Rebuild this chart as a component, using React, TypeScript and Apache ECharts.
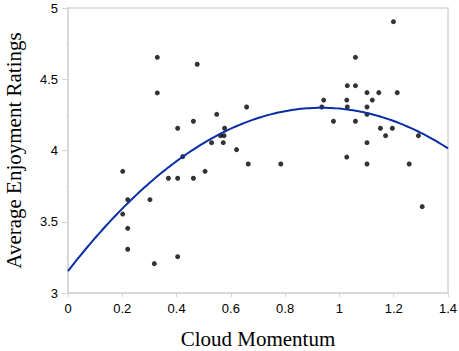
import React, { useEffect, useRef } from "react";
import * as echarts from "echarts";

const xTickLabels = ["0", "0.2", "0.4", "0.6", "0.8", "1", "1.2", "1.4"];
const yTickLabels = ["3", "3.5", "4", "4.5", "5"];

const momentum = [
  0.329, 0.476, 0.329, 0.658, 0.548, 0.462, 0.404, 0.577, 0.562, 0.575,
  0.529, 0.572, 0.621, 0.664, 0.2015, 0.4225, 0.370, 0.404, 0.462, 0.505,
  0.220, 0.302, 0.2015, 0.220, 0.220, 0.318, 0.404,
  1.199, 1.059, 1.029, 1.059, 1.1016, 1.145, 1.213, 0.942, 1.027, 1.121,
  0.935, 1.029, 1.1016, 1.1016, 0.978, 1.059, 1.151, 1.195, 1.170, 1.291,
  1.1016, 0.784, 1.027, 1.1016, 1.257, 1.305,
];
const enjoyment = [
  4.654, 4.605, 4.404, 4.305, 4.254, 4.205, 4.156, 4.156, 4.104, 4.104,
  4.055, 4.055, 4.006, 3.905, 3.854, 3.957, 3.805, 3.805, 3.805, 3.854,
  3.655, 3.655, 3.554, 3.454, 3.307, 3.206, 3.255,
  4.904, 4.654, 4.455, 4.455, 4.406, 4.406, 4.406, 4.354, 4.354, 4.354,
  4.305, 4.305, 4.305, 4.254, 4.205, 4.205, 4.156, 4.156, 4.104, 4.104,
  4.055, 3.905, 3.954, 3.905, 3.905, 3.606,
];
// quadratic fit y = a + b x + c x^2
const fitCoefficients = [3.154, 2.453, -1.313];
const fitRange = [0, 1.4];

export default function App() {
  const ref = useRef<HTMLDivElement>(null);
  useEffect(() => {
    if (!ref.current) return;
    const chart = echarts.init(ref.current, undefined, { renderer: "svg" });
    const points = momentum.map((x, i) => [x, enjoyment[i]]);
    const curve: number[][] = [];
    const steps = 140;
    for (let i = 0; i <= steps; i++) {
      const x = fitRange[0] + ((fitRange[1] - fitRange[0]) * i) / steps;
      const [a, b, c] = fitCoefficients;
      curve.push([x, a + b * x + c * x * x]);
    }
    const axisColor = "#d6d6d6";
    chart.setOption({
      animation: false,
      grid: {
        left: 68,
        right: 11,
        top: 8,
        bottom: 58,
        show: true,
        borderColor: axisColor,
        borderWidth: 1.5,
        containLabel: false,
        outerBoundsMode: "none",
      },
      xAxis: {
        type: "value",
        min: 0,
        max: 1.4,
        interval: 0.2,
        name: "Cloud Momentum",
        nameLocation: "middle",
        nameGap: 35,
        nameTextStyle: { fontFamily: "Liberation Serif", fontSize: 21, color: "#000" },
        axisLine: { show: true, lineStyle: { color: axisColor, width: 1.5 } },
        axisTick: { show: true, length: 4, lineStyle: { color: axisColor } },
        splitLine: { show: false },
        axisLabel: {
          fontFamily: "Liberation Sans",
          fontSize: 13,
          color: "#000",
          margin: 9,
          formatter: (v: number) => xTickLabels[Math.round(v / 0.2)] ?? "",
        },
      },
      yAxis: {
        type: "value",
        min: 3,
        max: 5,
        interval: 0.5,
        name: "Average Enjoyment Ratings",
        nameLocation: "middle",
        nameGap: 44,
        nameTextStyle: { fontFamily: "Liberation Serif", fontSize: 21, color: "#000" },
        axisLine: { show: true, lineStyle: { color: axisColor, width: 1.5 } },
        axisTick: { show: true, length: 6, lineStyle: { color: axisColor } },
        minorTick: { show: true, splitNumber: 2, length: 2, lineStyle: { color: axisColor } },
        splitLine: { show: false },
        axisLabel: {
          fontFamily: "Liberation Sans",
          fontSize: 13,
          color: "#000",
          margin: 10,
          formatter: (v: number) => yTickLabels[Math.round((v - 3) / 0.5)] ?? "",
        },
      },
      series: [
        {
          type: "scatter",
          data: points,
          symbolSize: 5,
          itemStyle: { color: "#000" },
        },
        {
          type: "line",
          data: curve,
          showSymbol: false,
          smooth: false,
          lineStyle: { color: "#0a2ea6", width: 2 },
        },
      ],
    });
    return () => chart.dispose();
  }, []);
  return <div ref={ref} style={{ width: 459, height: 351, position: "absolute", left: 0, top: 0 }} />;
}
